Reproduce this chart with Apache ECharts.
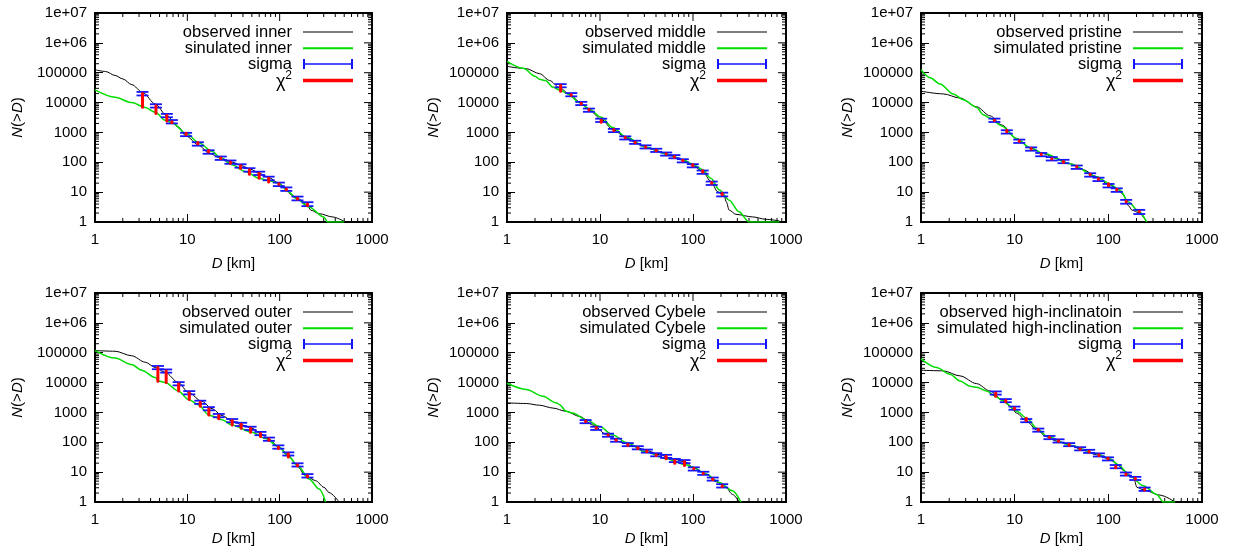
<!DOCTYPE html>
<html><head><meta charset="utf-8">
<script src="https://cdn.jsdelivr.net/npm/echarts@6/dist/echarts.min.js"></script>
<style>html,body{margin:0;padding:0;background:#fff}#c{width:1234px;height:555px}</style>
</head><body><div id="c"></div>
<script>
// ---------- tick labels ----------
const xTickLabels = ['1', '10', '100', '1000'];
const yTickLabels = ['1', '10', '100', '1000', '10000', '100000', '1e+06', '1e+07'];

// ---------- panel names ----------
const obsNames = ['observed inner', 'observed middle', 'observed pristine', 'observed outer', 'observed Cybele', 'observed high-inclinatoin'];
const simNames = ['sinulated inner', 'simulated middle', 'simulated pristine', 'simulated outer', 'simulated Cybele', 'simulated high-inclination'];

// ---------- inner ----------
const innerObs = [[1,126000],[1.3,110000],[1.65,81000],[2.0,62000],[2.5,40000],[3.27,22000],[4.5,8900],[6,3600],[8,1520],[9.7,755],[13.3,375],[17,205],[23,138],[30.5,102],[37.7,79],[48,59],[60,43],[76,31],[98,20],[118,12.7],[134,8],[156,6.2],[200,3.7],[217,2.5],[268,1.9],[373,1.48],[500,1.05]];
const innerSim = [[1,26500],[1.65,15000],[2.5,10000],[3.5,6900],[4.5,4700],[5.75,2560],[6.8,2150],[9.7,930],[13.3,450],[18.5,233],[23,138],[30.5,83],[42.5,49],[60,29],[76,24],[98,20],[125,10.3],[150,6.2],[208,3.2],[300,1.48],[330,1],[500,1]];
const innerBinD = [3.27,4.57,6.0,6.8,9.7,13,17,23,29.3,37.7,47,60,76,98,118,156,200];
const innerBinN = [20000,7800,3700,2300,860,415,223,138,102,76,56,43,29,18.4,12.7,6.2,4];
const innerBinSigma = [2700,1000,480,300,110,55,30,18,13,10,7.5,5.5,4,2.5,1.7,0.9,0.6];
const innerBinSim = [7000,4300,2400,2100,930,460,250,132,92,62,40,29,22,19,12,5.9,3.6];

// ---------- middle ----------
const middleObs = [[1,163000],[1.61,137000],[2.24,93000],[2.87,55000],[3.68,31000],[4.9,17000],[6.27,9400],[7.7,5600],[10.3,2750],[13.7,1260],[19.1,660],[24.4,450],[31.3,320],[40,250],[51.5,190],[66,147],[78,113],[99,79],[127,49],[156,22.6],[184,10.4],[218,7],[228,4.7],[245,2.5],[290,1.8],[438,1.48],[610,1.23],[850,1.08]];
const middleSim = [[1,240000],[1.5,140000],[2.0,76000],[2.24,60000],[2.6,55000],[3.1,33000],[3.68,26500],[4.5,19500],[6.0,10000],[7.7,6000],[10.3,3200],[13.7,1450],[19.1,700],[31.3,320],[51.5,190],[78,122],[99,87],[127,56],[156,29],[192,11.8],[245,5.4],[312,2.2],[400,1],[850,1]];
const middleBinD = [3.77,4.91,6.29,7.6,10.3,14.1,18.7,23.9,30.9,40.2,51.5,63.1,77.7,99.5,127,159,206];
const middleBinN = [37000,18500,9400,5600,2560,1170,660,470,330,253,190,155,113,77,47,20,8.4];
const middleBinSigma = [4500,2300,1150,700,320,145,80,57,40,31,23,19,14,9.5,6,2.6,1.2];
const middleBinSim = [24000,17500,9000,5900,2200,1250,690,450,320,245,195,148,118,82,52,21,9];

// ---------- pristine ----------
const pristineObs = [[1,24000],[1.73,19500],[2.61,14200],[3.93,7200],[5.46,3600],[7.28,1780],[10.5,620],[14.6,305],[20.3,195],[28.1,133],[39,90],[54,56],[75,33],[100,18],[123,13.4],[144,8.4],[164,3.5],[179,2.5],[210,2.07],[257,1]];
const pristineSim = [[1,126000],[1.25,68000],[1.6,42000],[2.21,19500],[2.83,12500],[3.93,6900],[4.63,3900],[5.46,3000],[7.28,1650],[10.5,630],[14.6,305],[20.3,200],[39,90],[75,33],[100,20],[133,11.8],[164,4.7],[210,2.3],[257,1]];
const pristineBinD = [6.08,8.24,11.2,15.0,19.2,24.9,33.2,46,64,78.5,100.5,123,155,214];
const pristineBinN = [2570,1050,510,280,182,132,107,69,38,27,16.6,11.8,4.8,2.2];
const pristineBinSigma = [330,135,65,36,23,17,14,9,5,3.5,2.2,1.6,0.7,0.35];
const pristineBinSim = [2500,1150,530,290,190,128,100,72,40,28,19,12.5,5,2.3];

// ---------- outer ----------
const outerObs = [[1,118000],[1.65,112000],[2.5,79000],[3.5,48000],[4.5,32000],[5.75,22000],[8.0,10000],[10.3,4600],[14.4,2350],[18.5,1340],[23.7,790],[30.5,520],[39,380],[50,295],[64,185],[76,128],[98,70],[121,41],[149,19],[191,7.6],[245,5.2],[302,3.1],[343,2.07],[440,1]];
const outerSim = [[1,118000],[1.65,66000],[2.5,40000],[3.2,26000],[4.5,14700],[4.87,11300],[5.75,10000],[8.0,5200],[10.3,2700],[13.2,1820],[17.1,820],[18.5,760],[23.7,570],[30.5,380],[50,215],[70,135],[98,70],[126,32],[162,14.7],[208,5.9],[268,2.7],[315,1]];
const outerBinD = [4.8,5.9,8.05,10.5,13.8,17.1,21.9,30.6,38.3,48.4,62,76.5,96.8,124,156,200];
const outerBinN = [32000,24500,9200,4600,2200,1340,790,535,400,295,198,128,70,41,17.6,7.6];
const outerBinSigma = [4000,3000,1150,570,270,165,100,66,50,37,25,16,9,5,2.2,1.0];
const outerBinSim = [11000,10000,5200,2700,1600,820,610,380,295,215,155,118,62,32,16.5,7];

// ---------- Cybele ----------
const cybeleObs = [[1,2090],[1.61,1990],[2.24,1740],[3.12,1400],[4.33,1090],[6.03,735],[8.4,380],[11.7,183],[16.2,104],[22.5,76],[31.2,54],[43.5,38.5],[60,28],[84,21.7],[99,14.7],[138,8.7],[177,4.8],[226,3.07],[266,1.8],[314,1]];
const cybeleSim = [[1,9500],[1.61,5900],[2.43,3500],[3.39,2090],[3.68,1820],[4.33,1090],[5.1,950],[7.1,565],[9.9,335],[13.8,175],[19.2,98],[31.2,47],[51.5,28],[84,17.6],[99,14.7],[138,8.7],[192,4.5],[266,2.4],[327,1]];
const cybeleBinD = [7.0,9.1,12.2,14.9,19.9,25.5,31.9,40.2,51.4,63.7,81,102,129,163,206];
const cybeleBinN = [495,295,174,118,84,66,51,38.5,34,24.7,22.7,12.9,9.2,5.9,3.5];
const cybeleBinSigma = [60,36,21,14,10,8,6,4.6,4,3,2.7,1.6,1.1,0.7,0.45];
const cybeleBinSim = [520,310,180,122,80,62,48,36,28,20,16.7,13.5,9,5.6,3.3];

// ---------- high-inclination ----------
const highObs = [[1,26000],[1.73,24700],[2.61,16700],[3.93,9200],[5.46,5200],[7.28,2700],[8.93,1600],[10.5,950],[13.5,500],[17.2,257],[22,153],[28.1,109],[39,80],[54,54],[75,38],[104,27],[128,16.7],[145,11.3],[186,6.7],[202,3.1],[237,2.56],[355,1.7],[516,1]];
const highSim = [[1,62000],[1.47,32000],[2.04,19000],[2.61,11300],[3.34,7600],[3.93,7000],[5.03,5200],[6.17,3500],[7.6,2350],[10.5,1090],[13.5,640],[17.2,295],[22,162],[39,80],[75,41.5],[104,28],[128,17.6],[171,7.3],[237,3.5],[328,1.8],[386,1],[516,1]];
const highBinD = [6.28,8.03,9.95,13.3,17.9,23.5,29.4,38.2,50,62.4,79.2,99,120,154,194,244];
const highBinN = [4500,2500,1400,535,257,145,112,84,61,50,38,28,15.4,8.7,6.2,2.7];
const highBinSigma = [550,300,170,65,31,18,14,10,7.5,6,4.6,3.4,1.9,1.05,0.75,0.35];
const highBinSim = [3500,2300,1300,640,270,150,108,80,58,47,36,29,14,8.2,5.9,2.5];

// ---------- assemble ----------
const panels = [
  {obs: innerObs, sim: innerSim, d: innerBinD, n: innerBinN, s: innerBinSigma, m: innerBinSim},
  {obs: middleObs, sim: middleSim, d: middleBinD, n: middleBinN, s: middleBinSigma, m: middleBinSim},
  {obs: pristineObs, sim: pristineSim, d: pristineBinD, n: pristineBinN, s: pristineBinSigma, m: pristineBinSim},
  {obs: outerObs, sim: outerSim, d: outerBinD, n: outerBinN, s: outerBinSigma, m: outerBinSim},
  {obs: cybeleObs, sim: cybeleSim, d: cybeleBinD, n: cybeleBinN, s: cybeleBinSigma, m: cybeleBinSim},
  {obs: highObs, sim: highSim, d: highBinD, n: highBinN, s: highBinSigma, m: highBinSim}
];

const FONT = "'Liberation Sans', Arial, Helvetica, sans-serif";
const colLeft = [95, 507, 921];
const colWidth = [277, 279, 281];
const rowTop = [13, 293];
const plotH = 209;
const xNameGap = [34, 29];
const yNameGap = [70, 66, 66];
const legendTop = [10.5, 26.8, 42.5, 56.5];
const C_OBS = '#000000', C_SIM = '#00dd00', C_SIG = '#1414ff', C_CHI = '#ff0000';

const xMinorVals = [], yMinorVals = [];
for (let e = 0; e < 3; e++) for (let m = 2; m <= 9; m++) xMinorVals.push(m * Math.pow(10, e));
for (let e = 0; e < 7; e++) for (let m = 2; m <= 9; m++) yMinorVals.push(m * Math.pow(10, e));
const xMajorVals = [1, 10, 100, 1000];
const yMajorVals = [1, 10, 100, 1000, 1e4, 1e5, 1e6, 1e7];

function sigmaRender(params, api) {
  const x = api.value(0), n = api.value(1), s = api.value(2);
  const t = api.coord([x, n + s]);
  const b = api.coord([x, n - s]);
  const w = 6;
  const st = {stroke: C_SIG, lineWidth: 1.8};
  return {type: 'group', children: [
    {type: 'line', shape: {x1: t[0], y1: t[1], x2: b[0], y2: b[1]}, style: st},
    {type: 'line', shape: {x1: t[0] - w, y1: t[1], x2: t[0] + w, y2: t[1]}, style: st},
    {type: 'line', shape: {x1: b[0] - w, y1: b[1], x2: b[0] + w, y2: b[1]}, style: st}
  ]};
}
function chiRender(params, api) {
  const x = api.value(0);
  const a = api.coord([x, api.value(1)]);
  const b = api.coord([x, api.value(2)]);
  return {type: 'line', shape: {x1: a[0], y1: a[1], x2: b[0], y2: b[1]},
    style: {stroke: C_CHI, lineWidth: 3, lineCap: 'round'}};
}
function tickRender(params, api) {
  const cs = params.coordSys;
  const x0 = cs.x, x1 = cs.x + cs.width, y0 = cs.y, y1 = cs.y + cs.height;
  const st = {stroke: '#000', lineWidth: 1};
  const ch = [];
  xMinorVals.forEach(v => {
    const px = api.coord([v, 1])[0];
    ch.push({type: 'line', shape: {x1: px, y1: y1, x2: px, y2: y1 - 4}, style: st});
    ch.push({type: 'line', shape: {x1: px, y1: y0, x2: px, y2: y0 + 4}, style: st});
  });
  xMajorVals.forEach(v => {
    const px = api.coord([v, 1])[0];
    ch.push({type: 'line', shape: {x1: px, y1: y0, x2: px, y2: y0 + 8}, style: st});
  });
  yMinorVals.forEach(v => {
    const py = api.coord([1, v])[1];
    ch.push({type: 'line', shape: {x1: x0, y1: py, x2: x0 + 4, y2: py}, style: st});
    ch.push({type: 'line', shape: {x1: x1, y1: py, x2: x1 - 4, y2: py}, style: st});
  });
  yMajorVals.forEach(v => {
    const py = api.coord([1, v])[1];
    ch.push({type: 'line', shape: {x1: x1, y1: py, x2: x1 - 8, y2: py}, style: st});
  });
  return {type: 'group', children: ch};
}

const grid = [], xAxis = [], yAxis = [], series = [], legend = [];
const txt = {fontSize: 15, color: '#000', fontFamily: FONT};
const ltxt = {fontSize: 16.5, color: '#000', fontFamily: FONT};

panels.forEach((p, i) => {
  const col = i % 3, row = Math.floor(i / 3);
  const left = colLeft[col], width = colWidth[col], top = rowTop[row];
  grid.push({left: left, top: top, width: width, height: plotH, show: true,
    borderColor: '#000', borderWidth: 2, backgroundColor: 'transparent'});
  xAxis.push({type: 'log', logBase: 10, gridIndex: i, min: 1, max: 1000, splitNumber: 3,
    axisLine: {show: false}, splitLine: {show: false},
    axisTick: {show: true, inside: true, length: 8, lineStyle: {color: '#000', width: 1}},
    axisLabel: Object.assign({margin: 10, showMinLabel: true, showMaxLabel: true,
      formatter: v => xTickLabels[Math.round(Math.log10(v))]}, txt),
    name: '{i|D} [km]', nameLocation: 'middle', nameGap: xNameGap[row],
    nameTextStyle: Object.assign({rich: {i: Object.assign({fontStyle: 'italic'}, txt)}}, txt)});
  yAxis.push({type: 'log', logBase: 10, gridIndex: i, min: 1, max: 1e7, splitNumber: 7,
    axisLine: {show: false}, splitLine: {show: false},
    axisTick: {show: true, inside: true, length: 8, lineStyle: {color: '#000', width: 1}},
    axisLabel: Object.assign({margin: 8, showMinLabel: true, showMaxLabel: true,
      formatter: v => yTickLabels[Math.round(Math.log10(v))]}, txt),
    name: '{i|N}(>{i|D})', nameLocation: 'middle', nameGap: yNameGap[col],
    nameTextStyle: Object.assign({rich: {i: Object.assign({fontStyle: 'italic'}, txt)}}, txt)});

  series.push({type: 'custom', name: 'ticks' + i, xAxisIndex: i, yAxisIndex: i, silent: true, clip: false,
    data: [[1, 1]], renderItem: tickRender, z: 1});
  series.push({type: 'line', name: obsNames[i], xAxisIndex: i, yAxisIndex: i, data: p.obs,
    showSymbol: false, symbol: 'none', smooth: 0.3, smoothMonotone: 'x', color: C_OBS,
    lineStyle: {color: C_OBS, width: 1}, z: 2});
  series.push({type: 'line', name: simNames[i], xAxisIndex: i, yAxisIndex: i, data: p.sim,
    showSymbol: false, symbol: 'none', smooth: 0.3, smoothMonotone: 'x', color: C_SIM,
    lineStyle: {color: C_SIM, width: 1.5}, z: 3});
  series.push({type: 'custom', name: 'sigma', xAxisIndex: i, yAxisIndex: i, color: C_SIG,
    itemStyle: {color: C_SIG}, data: p.d.map((d, k) => [d, p.n[k], p.s[k]]),
    encode: {x: 0, y: 1}, renderItem: sigmaRender, z: 4});
  series.push({type: 'custom', name: 'χ²', xAxisIndex: i, yAxisIndex: i, color: C_CHI,
    itemStyle: {color: C_CHI}, data: p.d.map((d, k) => [d, p.n[k], p.m[k]]),
    encode: {x: 0, y: 1}, renderItem: chiRender, z: 5});

  const rightPx = 1234 - (left + width - 19);
  const items = [
    {name: obsNames[i], icon: 'rect', h: 1, color: C_OBS},
    {name: simNames[i], icon: 'rect', h: 2, color: C_SIM},
    {name: 'sigma', icon: 'path://M0,0h2v10h-2zM0,4.25h50v1.5h-50zM48,0h2v10h-2z', h: 10, color: C_SIG},
    {name: 'χ²', icon: 'rect', h: 3.5, color: C_CHI}
  ];
  items.forEach((it, k) => {
    legend.push({
      show: true, orient: 'horizontal', align: 'right', selectedMode: false,
      right: rightPx, top: top + legendTop[k], padding: 0, itemGap: 0,
      itemWidth: 50, itemHeight: it.h, symbolKeepAspect: false,
      itemStyle: {borderWidth: 0},
      data: [{name: it.name, icon: it.icon, itemStyle: {color: it.color, borderWidth: 0}}],
      formatter: k === 3 ? '{a|χ}{s|2}' : '{name}',
      textStyle: Object.assign({padding: [0, 6, 0, 0], rich: {
        a: {fontSize: 18, fontFamily: FONT, color: '#000', padding: [4, 0, 0, 0]},
        s: {fontSize: 12, fontFamily: FONT, color: '#000', padding: [0, 0, 10, 0]}
      }}, ltxt)
    });
  });
});

const chart = echarts.init(document.getElementById('c'), null, {renderer: 'canvas'});
chart.setOption({animation: false, backgroundColor: '#fff', grid, xAxis, yAxis, series, legend});
</script></body></html>
